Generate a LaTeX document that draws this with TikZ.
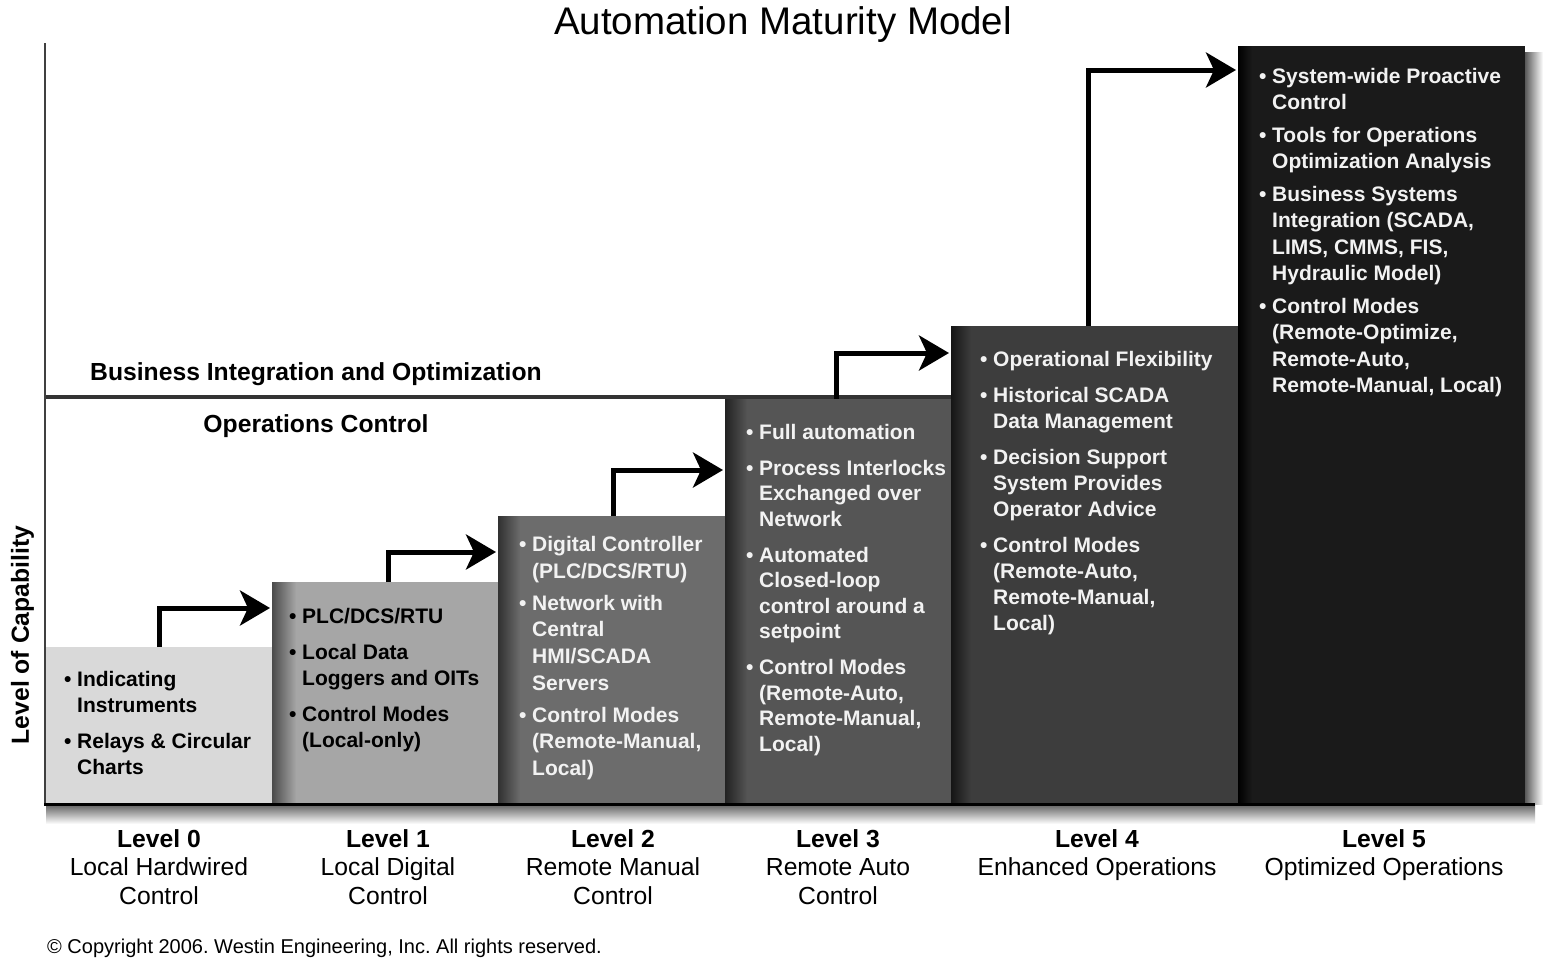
\documentclass[tikz,border=0pt]{standalone}
\usepackage{fontspec}
\setmainfont{Liberation Sans}
\frenchspacing
\usetikzlibrary{arrows.meta}
\definecolor{c0}{HTML}{D9D9D9}
\definecolor{c1}{HTML}{A6A6A6}
\definecolor{c2}{HTML}{6C6C6C}
\definecolor{c3}{HTML}{555555}
\definecolor{c4}{HTML}{3D3D3D}
\definecolor{c5}{HTML}{1A1A1A}
\definecolor{wtext}{HTML}{F2F2F2}
\newcommand\bl{\makebox[13pt][l]{\textbullet}}
\newcommand\ind{\hspace*{13pt}}
\begin{document}
\begin{tikzpicture}[x=1pt,y=-1pt,
  box/.style={rectangle, inner sep=0pt, outer sep=0pt, anchor=south west, draw=none},
  txt/.style={anchor=north west, inner sep=0pt, align=left},
  lvl/.style={anchor=north, inner sep=0pt, align=center, font=\fontsize{24.7}{28.5}\selectfont},
  arr/.style={line width=5pt, -{Stealth[length=30pt,width=35pt,inset=8pt]}},
  lbl/.style={inner sep=0pt, font=\bfseries\fontsize{24.7}{28}\selectfont}]
\useasboundingbox (0,0) rectangle (1560,961);
\fill[white] (0,0) rectangle (1560,961);

% title
\node[anchor=base, inner sep=0pt, font=\fontsize{38.5}{40}\selectfont] (title) at (783,34) {Automation Maturity Model};

% divider line (behind the tall boxes)
\draw[line width=4pt, color=black!80] (44,397) -- (1535,397);

% boxes
\node[box, fill=c0, minimum width=226pt, minimum height=157pt] (b0) at (46,804) {};
\node[box, fill=c1, minimum width=226pt, minimum height=222pt] (b1) at (272,804) {};
\node[box, fill=c2, minimum width=227pt, minimum height=288pt] (b2) at (498,804) {};
\node[box, fill=c3, minimum width=226pt, minimum height=405pt] (b3) at (725,804) {};
\node[box, fill=c4, minimum width=287pt, minimum height=478pt] (b4) at (951,804) {};
\node[box, fill=c5, minimum width=287pt, minimum height=758pt] (b5) at (1238,804) {};

% shadows on left edges of boxes
\shade[left color=c1!45!black, right color=c1] (b1.south west) rectangle ([xshift=24pt]b1.north west);
\shade[left color=c2!45!black, right color=c2] (b2.south west) rectangle ([xshift=22pt]b2.north west);
\shade[left color=c3!40!black, right color=c3] (b3.south west) rectangle ([xshift=22pt]b3.north west);
\shade[left color=c4!35!black, right color=c4] (b4.south west) rectangle ([xshift=20pt]b4.north west);
\shade[left color=black, right color=c5] (b5.south west) rectangle ([xshift=14pt]b5.north west);
% drop shadow to the right of level 5 and below the baseline
\shade[left color=black!65, right color=white] (b5.south east) rectangle ([xshift=18pt,yshift=-6pt]b5.north east);
\shade[top color=black!60, bottom color=white] (46,805) rectangle (1535,824);

% axes
\draw[line width=2pt, color=black!75] (45,43) -- (45,804);
\draw[line width=3pt] (44,804) -- (1535,804);

% region labels
\node[lbl, anchor=base west] (biz) at (90,380.8) {Business Integration and Optimization};
\node[lbl, anchor=base] (ops) at (316,432.8) {Operations Control};
\node[lbl, anchor=base, rotate=90] (cap) at (28.8,635) {Level of Capability};

% box texts
\node[txt, text=black, font=\bfseries\fontsize{21}{26}\selectfont] (t0) at (64,671)
 {\bl Indicating\\ \ind Instruments\\[10pt] \bl Relays \& Circular\\ \ind Charts};
\node[txt, text=black, font=\bfseries\fontsize{21}{26}\selectfont] (t1) at (289,608)
 {\bl PLC/DCS/RTU\\[10pt] \bl Local Data\\ \ind Loggers and OITs\\[10pt] \bl Control Modes\\ \ind (Local-only)};
\node[txt, text=wtext, font=\bfseries\fontsize{21}{26.7}\selectfont] (t2) at (519,536)
 {\bl Digital Controller\\ \ind (PLC/DCS/RTU)\\[5.3pt] \bl Network with\\ \ind Central\\ \ind HMI/SCADA\\ \ind Servers\\[5.3pt] \bl Control Modes\\ \ind (Remote-Manual,\\ \ind Local)};
\node[txt, text=wtext, font=\bfseries\fontsize{21}{25.5}\selectfont] (t3) at (746,424)
 {\bl Full automation\\[10.5pt] \bl Process Interlocks\\ \ind Exchanged over\\ \ind Network\\[10.5pt] \bl Automated\\ \ind Closed-loop\\ \ind control around a\\ \ind setpoint\\[10.5pt] \bl Control Modes\\ \ind (Remote-Auto,\\ \ind Remote-Manual,\\ \ind Local)};
\node[txt, text=wtext, font=\bfseries\fontsize{21}{26}\selectfont] (t4) at (980,351)
 {\bl Operational Flexibility\\[10pt] \bl Historical SCADA\\ \ind Data Management\\[10pt] \bl Decision Support\\ \ind System Provides\\ \ind Operator Advice\\[10pt] \bl Control Modes\\ \ind (Remote-Auto,\\ \ind Remote-Manual,\\ \ind Local)};
\node[txt, text=wtext, font=\bfseries\fontsize{21}{26.5}\selectfont] (t5) at (1259,68)
 {\bl System-wide Proactive\\ \ind Control\\[6pt] \bl Tools for Operations\\ \ind Optimization Analysis\\[6pt] \bl Business Systems\\ \ind Integration (SCADA,\\ \ind LIMS, CMMS, FIS,\\ \ind Hydraulic Model)\\[6pt] \bl Control Modes\\ \ind (Remote-Optimize,\\ \ind Remote-Auto,\\ \ind Remote-Manual, Local)};

% arrows
\draw[arr] (b0.north) |- ([xshift=-2pt,yshift=-26pt]b1.north west);
\draw[arr] ([xshift=3pt]b1.north) |- ([xshift=-2pt,yshift=-36pt]b2.north west);
\draw[arr] ([xshift=1.5pt]b2.north) |- ([xshift=-2pt,yshift=-71pt]b3.north west);
\draw[arr] ([xshift=-2pt]b3.north) |- ([xshift=-2pt,yshift=-27pt]b4.north west);
\draw[arr] ([xshift=-6.5pt]b4.north) |- ([xshift=-2pt,yshift=-24pt]b5.north west);

% level labels
\node[lvl] (l0) at ([yshift=-25pt]b0.south) {\textbf{Level 0}\\Local Hardwired\\Control};
\node[lvl] (l1) at ([xshift=3pt,yshift=-25pt]b1.south) {\textbf{Level 1}\\Local Digital\\Control};
\node[lvl] (l2) at ([xshift=1.5pt,yshift=-25pt]b2.south) {\textbf{Level 2}\\Remote Manual\\Control};
\node[lvl] (l3) at ([yshift=-25pt]b3.south) {\textbf{Level 3}\\Remote Auto\\Control};
\node[lvl] (l4) at ([xshift=2.5pt,yshift=-25pt]b4.south) {\textbf{Level 4}\\Enhanced Operations};
\node[lvl] (l5) at ([xshift=2.5pt,yshift=-25pt]b5.south) {\textbf{Level 5}\\Optimized Operations};

% copyright
\node[anchor=base west, inner sep=0pt, font=\fontsize{20}{24}\selectfont] (copy) at (47,953) {\textcopyright{} Copyright 2006. Westin Engineering, Inc. All rights reserved.};
\end{tikzpicture}
\end{document}
